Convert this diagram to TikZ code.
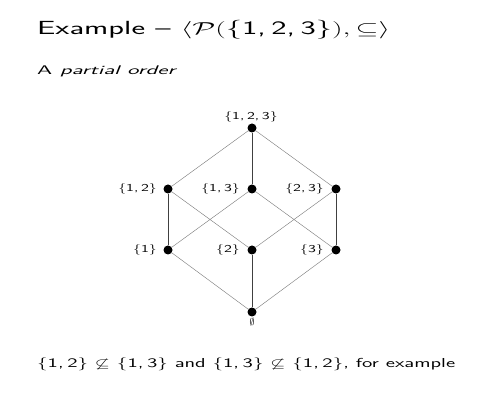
\documentclass[tikz,border=0pt]{standalone}
\usepackage{amssymb}
\usepackage{graphicx}
\renewcommand{\familydefault}{\sfdefault}
\newcommand{\lblx}[1]{\scalebox{1.5}[1]{#1}}
\begin{document}
\begin{tikzpicture}[x=1pt,y=-1pt,
  vtx/.style={circle,fill=black,inner sep=0pt,minimum width=9pt,minimum height=8pt},
  lbl/.style={font=\fontsize{10.5}{12}\selectfont\sffamily,inner sep=0pt},
  txt/.style={anchor=base west,inner sep=0pt},
  edge/.style={draw=black!50,line width=0.45pt},
  vedge/.style={draw=black!75,line width=0.5pt}]
\useasboundingbox (0,0) rectangle (485,403);
% title and texts
\node[txt,font=\fontsize{19}{23}\selectfont\sffamily] (title) at (37,35)
  {\resizebox{353pt}{\height}{Example -- $\langle\mathcal{P}($\{1,\,2,\,3\}$),\subseteq\rangle$}};
\node[txt,font=\fontsize{12.5}{15}\selectfont\sffamily] (sub) at (37,74.5)
  {\resizebox{140pt}{\height}{A \textit{partial order}}};
\node[txt,font=\fontsize{13}{16}\selectfont\sffamily] (foot) at (37,368)
  {\resizebox{418pt}{\height}{\{1,\,2\} $\not\subseteq$ \{1,\,3\} and \{1,\,3\} $\not\subseteq$ \{1,\,2\}, for example}};
% vertices
\node[vtx] (s123) at (252,128) {};
\node[vtx] (s12) at (168,189) {};
\node[vtx] (s13) at (252,189) {};
\node[vtx] (s23) at (336,189) {};
\node[vtx] (s1) at (168,250) {};
\node[vtx] (s2) at (252,250) {};
\node[vtx] (s3) at (336,250) {};
\node[vtx] (s0) at (252,312) {};
% edges
\draw[vedge] (s123) -- (s13);
\draw[edge] (s123) -- (s12);
\draw[edge] (s123) -- (s23);
\draw[vedge] (s12) -- (s1);
\draw[edge] (s12) -- (s2);
\draw[edge] (s13) -- (s1);
\draw[edge] (s13) -- (s3);
\draw[edge] (s23) -- (s2);
\draw[vedge] (s23) -- (s3);
\draw[edge] (s1) -- (s0);
\draw[vedge] (s2) -- (s0);
\draw[edge] (s3) -- (s0);
% labels
\node[lbl,anchor=base] (l123) at (251,120) {\lblx{\{1,\,2,\,3\}}};
\node[lbl,anchor=east] (l12) at (157,189) {\lblx{\{1,\,2\}}};
\node[lbl,anchor=east] (l13) at (240,189) {\lblx{\{1,\,3\}}};
\node[lbl,anchor=east] (l23) at (324,189) {\lblx{\{2,\,3\}}};
\node[lbl,anchor=east] (l1) at (157,250) {\lblx{\{1\}}};
\node[lbl,anchor=east] (l2) at (240,250) {\lblx{\{2\}}};
\node[lbl,anchor=east] (l3) at (324,250) {\lblx{\{3\}}};
\node[lbl,anchor=north,font=\fontsize{10}{12}\selectfont] (l0) at (252,318) {$\emptyset$};
\end{tikzpicture}
\end{document}
